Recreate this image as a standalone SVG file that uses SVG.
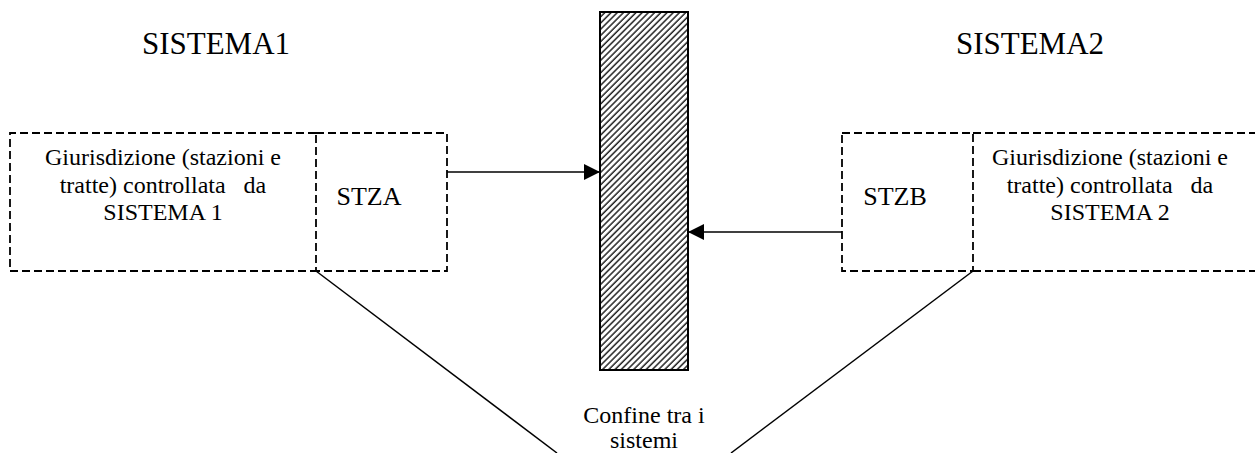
<svg xmlns="http://www.w3.org/2000/svg" width="1255" height="453" viewBox="0 0 1255 453">
  <style>
    text { font-family: "Liberation Serif", "Times New Roman", serif; fill: #000; }
    .title { font-size: 31px; }
    .body { font-size: 24px; }
    .stz { font-size: 26px; }
    .dash { fill: none; stroke: #000; stroke-width: 1.8; stroke-dasharray: 8 4; }
    .conn { fill: none; stroke: #000; stroke-width: 1.5; }
  </style>
  <defs>
    <pattern id="hatch" patternUnits="userSpaceOnUse" width="4.4" height="4.4" patternTransform="rotate(45)">
      <rect width="4.4" height="4.4" fill="#fff"/>
      <line x1="1" y1="0" x2="1" y2="4.4" stroke="#222" stroke-width="1.5"/>
    </pattern>
    <marker id="arrow" viewBox="0 0 16 16" refX="16" refY="8" markerWidth="16" markerHeight="16" markerUnits="userSpaceOnUse" orient="auto">
      <path d="M0,0 L16,8 L0,16 Z" fill="#000"/>
    </marker>
  </defs>
  <rect width="1255" height="453" fill="#fff"/>

  <!-- system titles -->
  <text class="title" x="216" y="54" text-anchor="middle">SISTEMA1</text>
  <text class="title" x="1030" y="54" text-anchor="middle">SISTEMA2</text>

  <!-- boundary between the two systems -->
  <g id="confine">
    <rect x="600" y="12" width="88" height="358" fill="url(#hatch)" stroke="#000" stroke-width="2"/>
    <text class="body" x="644" y="423" text-anchor="middle">Confine tra i</text>
    <text class="body" x="644" y="448" text-anchor="middle">sistemi</text>
  </g>

  <!-- jurisdiction of system 1 -->
  <g id="giurisdizione1">
    <path class="dash" d="M316,133 H10 V271 H316"/>
    <text class="body" x="163" y="165" text-anchor="middle">Giurisdizione (stazioni e</text>
    <text class="body" x="163" y="193" text-anchor="middle" xml:space="preserve">tratte) controllata   da</text>
    <text class="body" x="163" y="220" text-anchor="middle">SISTEMA 1</text>
  </g>

  <!-- border station A -->
  <g id="stza">
    <rect class="dash" x="316" y="133" width="131" height="138"/>
    <text class="stz" x="369" y="205" text-anchor="middle">STZA</text>
  </g>

  <!-- border station B -->
  <g id="stzb">
    <rect class="dash" x="842" y="133" width="131" height="138"/>
    <text class="stz" x="895" y="205" text-anchor="middle">STZB</text>
  </g>

  <!-- jurisdiction of system 2 -->
  <g id="giurisdizione2">
    <path class="dash" d="M973,133 H1262 M973,271 H1262"/>
    <text class="body" x="1110" y="165" text-anchor="middle">Giurisdizione (stazioni e</text>
    <text class="body" x="1110" y="193" text-anchor="middle" xml:space="preserve">tratte) controllata   da</text>
    <text class="body" x="1110" y="220" text-anchor="middle">SISTEMA 2</text>
  </g>

  <!-- connectors -->
  <g id="connectors">
    <line class="conn" x1="447" y1="172" x2="600" y2="172" marker-end="url(#arrow)"/>
    <line class="conn" x1="842" y1="232" x2="688" y2="232" marker-end="url(#arrow)"/>
    <line class="conn" x1="316" y1="271" x2="557" y2="453"/>
    <line class="conn" x1="973" y1="271" x2="731" y2="453"/>
  </g>
</svg>
